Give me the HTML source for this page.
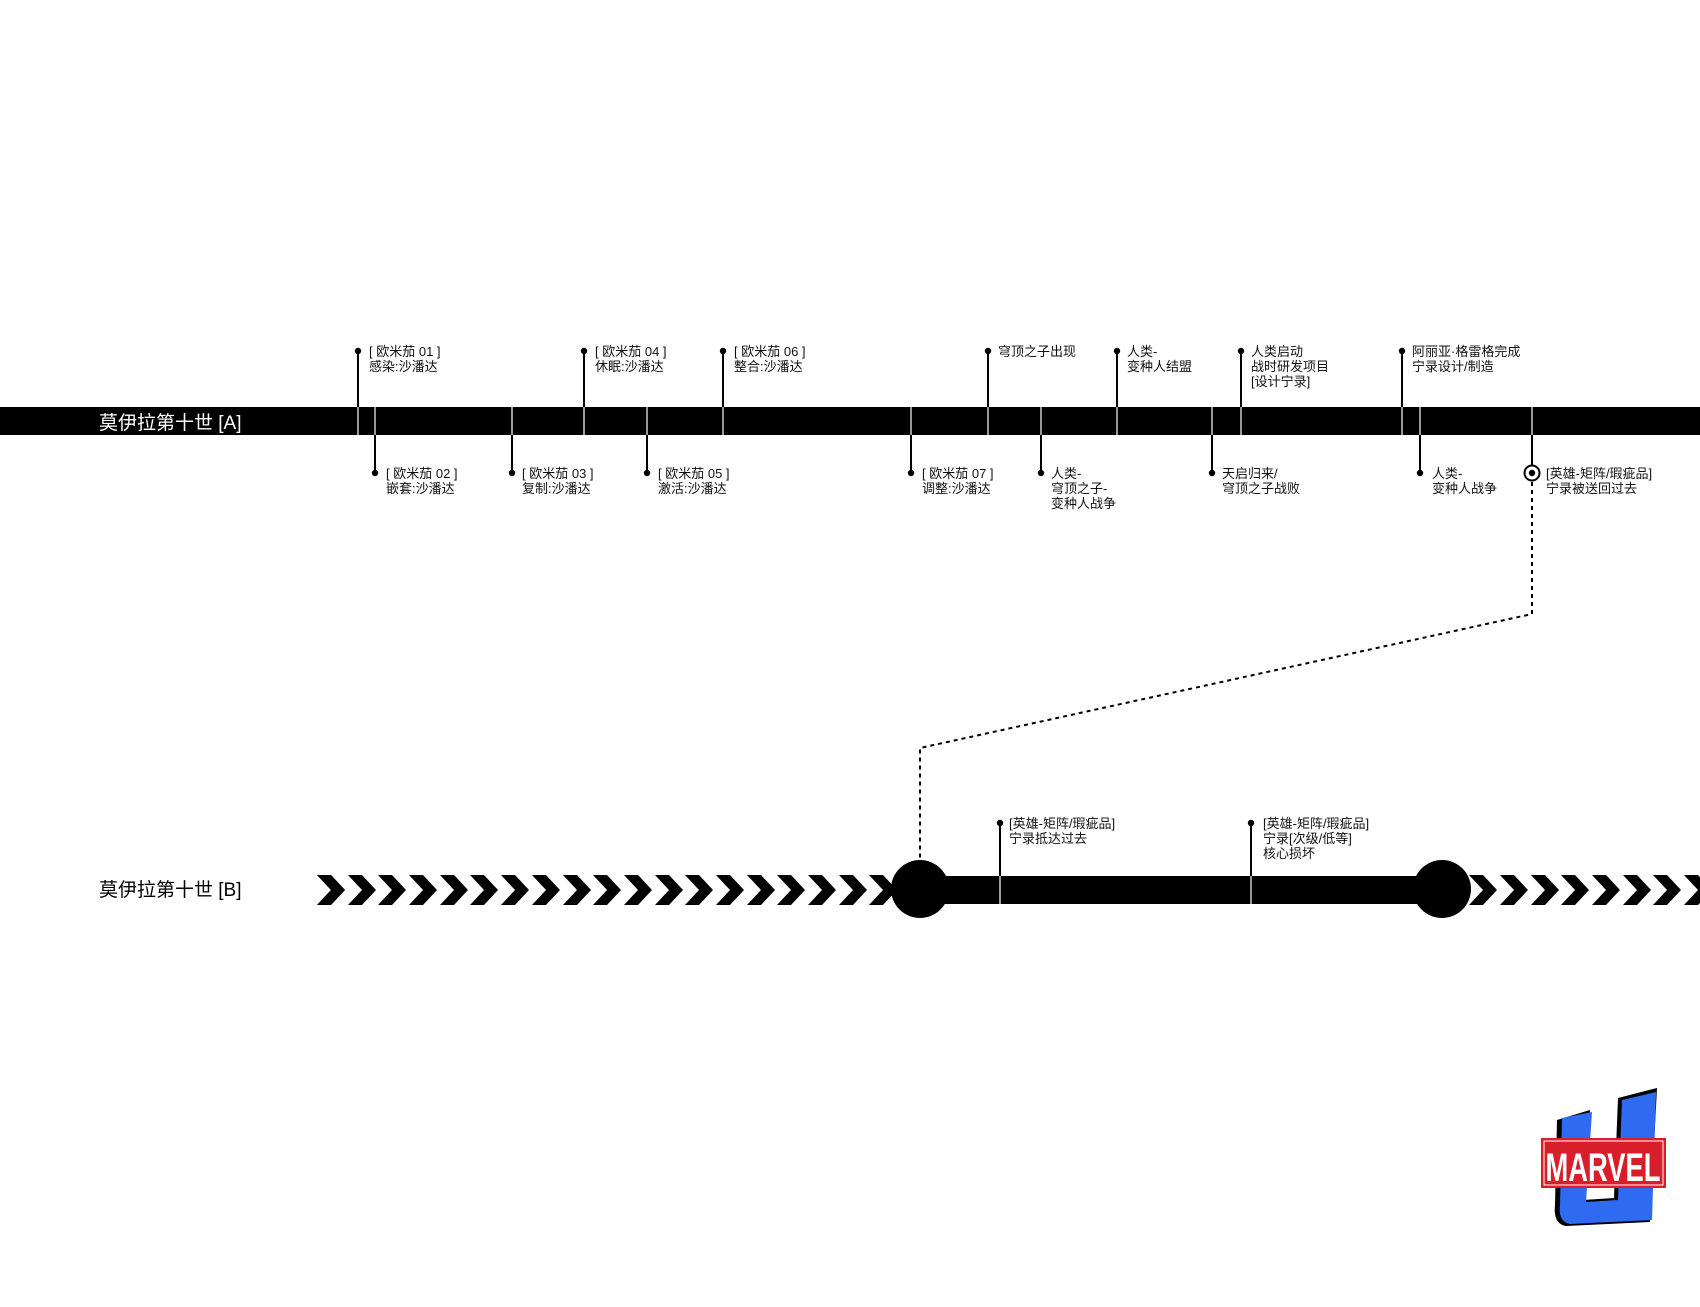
<!DOCTYPE html>
<html><head><meta charset="utf-8"><style>
html,body{margin:0;padding:0;background:#fff;}
svg{display:block;}
text{font-family:"Liberation Sans","Noto Sans CJK SC",sans-serif;}
.t{font-size:13px;fill:#111;}
</style></head><body>
<svg width="1700" height="1307" viewBox="0 0 1700 1307" xmlns="http://www.w3.org/2000/svg">
<!-- Bar A -->
<rect x="0" y="407" width="1700" height="28" fill="#000"/>
<text x="99" y="429" font-size="19" fill="#fff">莫伊拉第十世 [A]</text>
<g stroke-width="2">
<!-- top ticks -->
<g stroke="#000">
<line x1="358" y1="351" x2="358" y2="407"/><line x1="584" y1="351" x2="584" y2="407"/>
<line x1="723" y1="351" x2="723" y2="407"/><line x1="988" y1="351" x2="988" y2="407"/>
<line x1="1117" y1="351" x2="1117" y2="407"/><line x1="1241" y1="351" x2="1241" y2="407"/>
<line x1="1402" y1="351" x2="1402" y2="407"/>
<line x1="375" y1="435" x2="375" y2="473"/><line x1="512" y1="435" x2="512" y2="473"/>
<line x1="647" y1="435" x2="647" y2="473"/><line x1="911" y1="435" x2="911" y2="473"/>
<line x1="1041" y1="435" x2="1041" y2="473"/><line x1="1212" y1="435" x2="1212" y2="473"/>
<line x1="1420" y1="435" x2="1420" y2="473"/><line x1="1532" y1="435" x2="1532" y2="465"/>
</g>
<g stroke="#ccc" stroke-width="1.5">
<line x1="358" y1="407" x2="358" y2="435"/><line x1="584" y1="407" x2="584" y2="435"/>
<line x1="723" y1="407" x2="723" y2="435"/><line x1="988" y1="407" x2="988" y2="435"/>
<line x1="1117" y1="407" x2="1117" y2="435"/><line x1="1241" y1="407" x2="1241" y2="435"/>
<line x1="1402" y1="407" x2="1402" y2="435"/>
<line x1="375" y1="407" x2="375" y2="435"/><line x1="512" y1="407" x2="512" y2="435"/>
<line x1="647" y1="407" x2="647" y2="435"/><line x1="911" y1="407" x2="911" y2="435"/>
<line x1="1041" y1="407" x2="1041" y2="435"/><line x1="1212" y1="407" x2="1212" y2="435"/>
<line x1="1420" y1="407" x2="1420" y2="435"/><line x1="1532" y1="407" x2="1532" y2="435"/>
</g>
</g>
<g fill="#000">
<circle cx="358" cy="351" r="3.2"/><circle cx="584" cy="351" r="3.2"/><circle cx="723" cy="351" r="3.2"/>
<circle cx="988" cy="351" r="3.2"/><circle cx="1117" cy="351" r="3.2"/><circle cx="1241" cy="351" r="3.2"/>
<circle cx="1402" cy="351" r="3.2"/>
<circle cx="375" cy="473" r="3.2"/><circle cx="512" cy="473" r="3.2"/><circle cx="647" cy="473" r="3.2"/>
<circle cx="911" cy="473" r="3.2"/><circle cx="1041" cy="473" r="3.2"/><circle cx="1212" cy="473" r="3.2"/>
<circle cx="1420" cy="473" r="3.2"/>
</g>
<circle cx="1532" cy="473" r="7.5" fill="#fff" stroke="#000" stroke-width="2"/>
<circle cx="1532" cy="473" r="3.2" fill="#000"/>
<!-- top labels -->
<g class="t">
<text class="t" x="369" y="356">[ 欧米茄 01 ]</text><text class="t" x="369" y="371">感染:沙潘达</text>
<text class="t" x="595" y="356">[ 欧米茄 04 ]</text><text class="t" x="595" y="371">休眠:沙潘达</text>
<text class="t" x="734" y="356">[ 欧米茄 06 ]</text><text class="t" x="734" y="371">整合:沙潘达</text>
<text class="t" x="998" y="356">穹顶之子出现</text>
<text class="t" x="1127" y="356">人类-</text><text class="t" x="1127" y="371">变种人结盟</text>
<text class="t" x="1251" y="356">人类启动</text><text class="t" x="1251" y="371">战时研发项目</text><text class="t" x="1251" y="386">[设计宁录]</text>
<text class="t" x="1412" y="356">阿丽亚·格雷格完成</text><text class="t" x="1412" y="371">宁录设计/制造</text>
<!-- bottom labels -->
<text class="t" x="386" y="478">[ 欧米茄 02 ]</text><text class="t" x="386" y="493">嵌套:沙潘达</text>
<text class="t" x="522" y="478">[ 欧米茄 03 ]</text><text class="t" x="522" y="493">复制:沙潘达</text>
<text class="t" x="658" y="478">[ 欧米茄 05 ]</text><text class="t" x="658" y="493">激活:沙潘达</text>
<text class="t" x="922" y="478">[ 欧米茄 07 ]</text><text class="t" x="922" y="493">调整:沙潘达</text>
<text class="t" x="1051" y="478">人类-</text><text class="t" x="1051" y="493">穹顶之子-</text><text class="t" x="1051" y="508">变种人战争</text>
<text class="t" x="1222" y="478">天启归来/</text><text class="t" x="1222" y="493">穹顶之子战败</text>
<text class="t" x="1432" y="478">人类-</text><text class="t" x="1432" y="493">变种人战争</text>
<text class="t" x="1546" y="478">[英雄-矩阵/瑕疵品]</text><text class="t" x="1546" y="493">宁录被送回过去</text>
</g>
<!-- dashed connector -->
<polyline points="1532,482 1532,614 920,748 920,862" fill="none" stroke="#000" stroke-width="2" stroke-dasharray="4,4"/>
<!-- Bar B -->
<text x="99" y="896" font-size="19" fill="#000">莫伊拉第十世 [B]</text>
<g fill="#000">
<polygon id="ch" points="317,875 331,875 345,890 331,905 317,905 331,890"/>
</g>
<g fill="#000" id="chev"></g>
<rect x="920" y="876" width="522" height="28" fill="#000"/>
<circle cx="920" cy="889" r="29" fill="#000"/>
<circle cx="1442" cy="889" r="29" fill="#000"/>
<g stroke-width="2">
<line x1="1000" y1="823" x2="1000" y2="876" stroke="#000"/>
<line x1="1251" y1="823" x2="1251" y2="876" stroke="#000"/>
<line x1="1000" y1="876" x2="1000" y2="904" stroke="#ccc" stroke-width="1.5"/>
<line x1="1251" y1="876" x2="1251" y2="904" stroke="#ccc" stroke-width="1.5"/>
</g>
<circle cx="1000" cy="823" r="3.2" fill="#000"/><circle cx="1251" cy="823" r="3.2" fill="#000"/>
<text class="t" x="1009" y="828">[英雄-矩阵/瑕疵品]</text><text class="t" x="1009" y="843">宁录抵达过去</text>
<text class="t" x="1263" y="828">[英雄-矩阵/瑕疵品]</text><text class="t" x="1263" y="843">宁录[次级/低等]</text><text class="t" x="1263" y="858">核心损坏</text>
<!-- chevrons -->
<g fill="#000">
<polygon points="317,875 331,875 345,890 331,905 317,905 331,890"/>
<polygon points="348,875 362,875 376,890 362,905 348,905 362,890"/>
<polygon points="378,875 392,875 406,890 392,905 378,905 392,890"/>
<polygon points="409,875 423,875 437,890 423,905 409,905 423,890"/>
<polygon points="440,875 454,875 468,890 454,905 440,905 454,890"/>
<polygon points="470,875 484,875 498,890 484,905 470,905 484,890"/>
<polygon points="501,875 515,875 529,890 515,905 501,905 515,890"/>
<polygon points="532,875 546,875 560,890 546,905 532,905 546,890"/>
<polygon points="563,875 577,875 591,890 577,905 563,905 577,890"/>
<polygon points="593,875 607,875 621,890 607,905 593,905 607,890"/>
<polygon points="624,875 638,875 652,890 638,905 624,905 638,890"/>
<polygon points="655,875 669,875 683,890 669,905 655,905 669,890"/>
<polygon points="685,875 699,875 713,890 699,905 685,905 699,890"/>
<polygon points="716,875 730,875 744,890 730,905 716,905 730,890"/>
<polygon points="747,875 761,875 775,890 761,905 747,905 761,890"/>
<polygon points="777,875 791,875 805,890 791,905 777,905 791,890"/>
<polygon points="808,875 822,875 836,890 822,905 808,905 822,890"/>
<polygon points="839,875 853,875 867,890 853,905 839,905 853,890"/>
<polygon points="869,875 883,875 897,890 883,905 869,905 883,890"/>
<polygon points="1469,875 1483,875 1497,890 1483,905 1469,905 1483,890"/>
<polygon points="1500,875 1514,875 1528,890 1514,905 1500,905 1514,890"/>
<polygon points="1531,875 1545,875 1559,890 1545,905 1531,905 1545,890"/>
<polygon points="1561,875 1575,875 1589,890 1575,905 1561,905 1575,890"/>
<polygon points="1592,875 1606,875 1620,890 1606,905 1592,905 1606,890"/>
<polygon points="1623,875 1637,875 1651,890 1637,905 1623,905 1637,890"/>
<polygon points="1653,875 1667,875 1681,890 1667,905 1653,905 1667,890"/>
<polygon points="1684,875 1698,875 1712,890 1698,905 1684,905 1698,890"/>
</g>
<!-- logo -->
<g>
<path d="M1557,1120 L1590,1110 L1583,1200 L1614,1198 L1618,1098 L1657,1088 L1650,1222 L1566,1226 Q1553,1224 1555,1205 Z" fill="#000"/>
<path d="M1562,1118 L1592,1112 L1586,1202 L1618,1200 L1622,1100 L1656,1092 L1652,1220 L1570,1224 Q1558,1222 1560,1205 Z" fill="#2f6bf0"/>
<rect x="1541" y="1138" width="125" height="50" fill="#d81e2a"/>
<rect x="1544" y="1141" width="119" height="44" fill="#d81e2a" stroke="#fff" stroke-width="1"/>
<text x="1603" y="1181" font-size="40" font-weight="bold" fill="#fff" text-anchor="middle" textLength="115" lengthAdjust="spacingAndGlyphs" style="font-family:'Liberation Sans Narrow','Liberation Sans',sans-serif">MARVEL</text>
</g>
</svg>
</body></html>
